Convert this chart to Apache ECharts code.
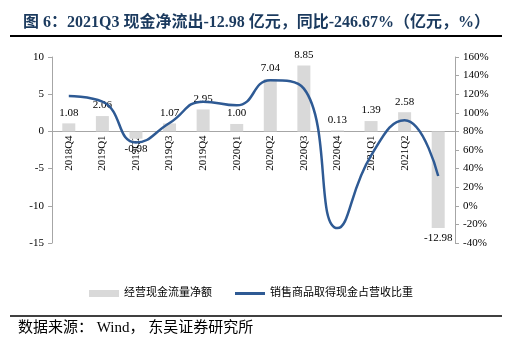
<!DOCTYPE html>
<html><head><meta charset="utf-8">
<script src="https://cdn.jsdelivr.net/npm/echarts@6/dist/echarts.min.js"></script>
<style>html,body{margin:0;padding:0;background:#fff}#c{width:509px;height:345px}</style>
</head><body><div id="c"></div>
<script>
var categories = ['2018Q4','2019Q1','2019Q2','2019Q3','2019Q4','2020Q1','2020Q2','2020Q3','2020Q4','2021Q1','2021Q2','2021Q3'];
var netCashFlow = [1.08, 2.06, -0.98, 1.07, 2.95, 1.00, 7.04, 8.85, 0.13, 1.39, 2.58, -12.98];
var cashRatio = [118, 112, 68, 89, 112, 108, 135, 126, -24, 54, 92, 32];
var leftTicks = {min: -15, max: 10, interval: 5};
var rightTicks = {min: -40, max: 160, interval: 20};

var serif = '"Liberation Serif","Times New Roman","Noto Sans CJK SC",serif';
var cjk = '"Liberation Serif","Noto Sans CJK SC",sans-serif';
var gridTop = 57, gridBottom = 102, H = 345;
var plotH = H - gridTop - gridBottom;
var zeroOffset = -plotH * (0 - leftTicks.min) / (leftTicks.max - leftTicks.min);

var chart = echarts.init(document.getElementById('c'));
chart.setOption({
  animation: false,
  title: {
    text: '图 6：2021Q3 现金净流出-12.98 亿元，同比-246.67%（亿元，%）',
    left: 18, top: 10,
    textStyle: {fontFamily: cjk, fontSize: 16, fontWeight: 'bold', color: '#1b3a5e'}
  },
  graphic: [
    {type: 'line', shape: {x1: 10, y1: 36, x2: 502, y2: 36}, style: {stroke: '#000', lineWidth: 2}},
    {type: 'line', shape: {x1: 10, y1: 316, x2: 502, y2: 316}, style: {stroke: '#000', lineWidth: 1.5}},
    {type: 'text', left: 18, top: 321, style: {text: '数据来源： Wind， 东吴证券研究所', fontFamily: cjk, fontSize: 15, fill: '#000'}}
  ],
  legend: {
    top: 283, left: 84, itemGap: 23, itemWidth: 30, itemHeight: 7,
    textStyle: {fontFamily: cjk, fontSize: 11, color: '#000'},
    data: [
      {name: '经营现金流量净额', icon: 'rect'},
      {name: '销售商品取得现金占营收比重', icon: 'path://M0,0 H30 V3 H0 Z'}
    ]
  },
  grid: {left: 52, right: 54, top: gridTop, bottom: gridBottom},
  xAxis: {
    type: 'category', data: categories, offset: zeroOffset,
    axisLine: {onZero: false, lineStyle: {color: '#a6a6a6'}},
    axisTick: {show: false},
    axisLabel: {rotate: 90, fontFamily: serif, fontSize: 11, color: '#000', margin: 4}
  },
  yAxis: [
    {type: 'value', min: leftTicks.min, max: leftTicks.max, interval: leftTicks.interval,
     splitLine: {show: false},
     axisLine: {show: true, onZero: false, lineStyle: {color: '#a6a6a6'}},
     axisTick: {show: true, length: 4, lineStyle: {color: '#a6a6a6'}},
     axisLabel: {fontFamily: serif, fontSize: 11, color: '#000', margin: 8}},
    {type: 'value', min: rightTicks.min, max: rightTicks.max, interval: rightTicks.interval,
     splitLine: {show: false},
     axisLine: {show: true, onZero: false, lineStyle: {color: '#a6a6a6'}},
     axisTick: {show: true, length: 4, lineStyle: {color: '#a6a6a6'}},
     axisLabel: {fontFamily: serif, fontSize: 11, color: '#000', margin: 8, formatter: '{value}%'}}
  ],
  series: [
    {name: '经营现金流量净额', type: 'bar', yAxisIndex: 0, barWidth: 13,
     itemStyle: {color: '#d9d9d9'},
     data: netCashFlow.map(function (v) {
       return {value: v, label: {position: v < 0 ? 'bottom' : 'top'}};
     }),
     label: {show: true, fontFamily: serif, fontSize: 11, color: '#000', distance: 5,
             formatter: function (p) { return p.value.toFixed(2); }}},
    {name: '销售商品取得现金占营收比重', type: 'line', yAxisIndex: 1, smooth: 0.5,
     symbol: 'none', lineStyle: {color: '#2e5a94', width: 2.5}, itemStyle: {color: '#2e5a94'},
     data: cashRatio, z: 5}
  ]
});
</script></body></html>
